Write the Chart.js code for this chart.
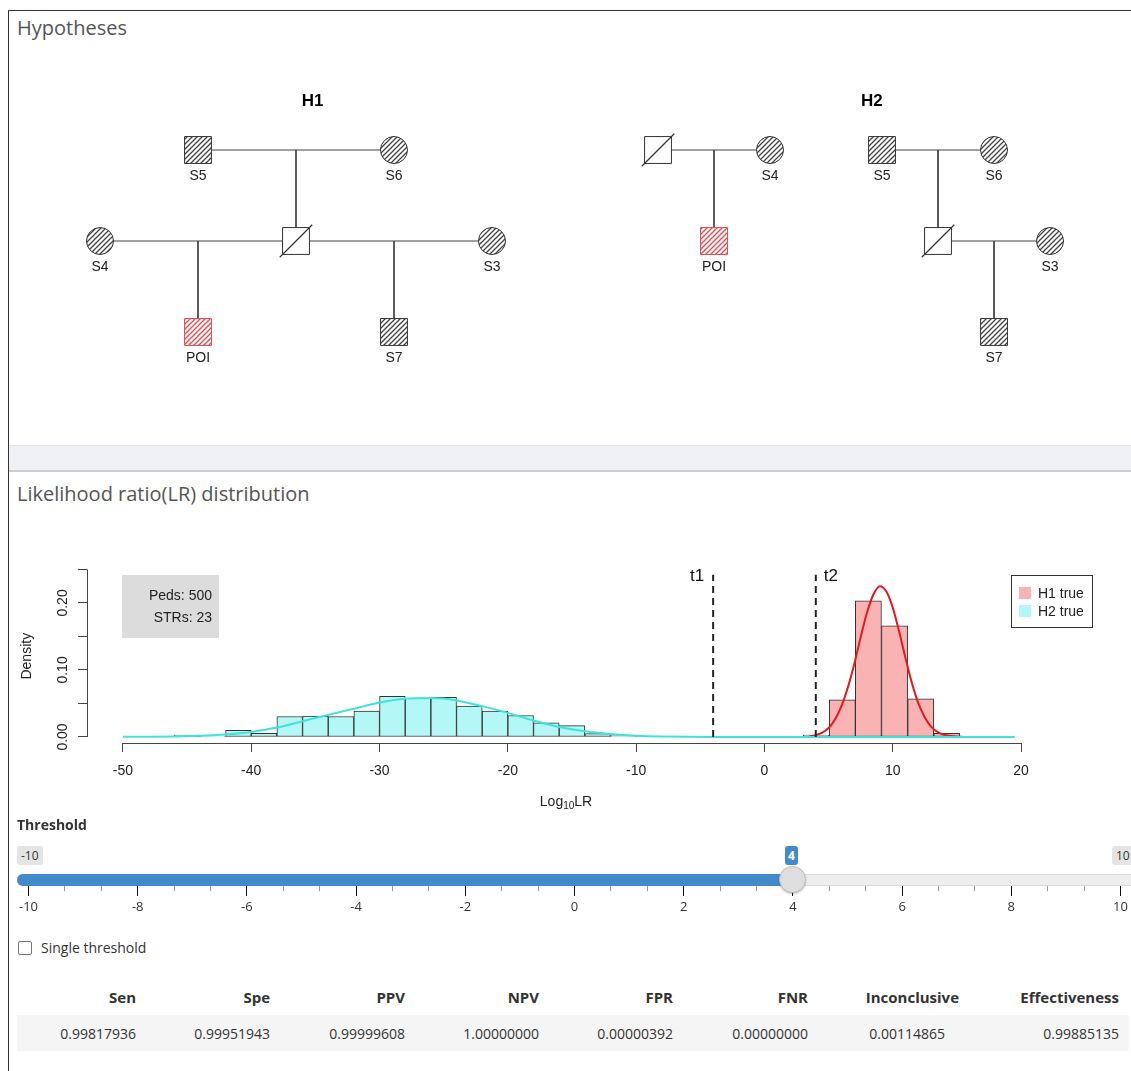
<!DOCTYPE html>
<html>
<head>
<meta charset="utf-8">
<script src="https://cdn.jsdelivr.net/npm/chart.js@4.4.1/dist/chart.umd.min.js"></script>
<style>
  body { margin: 0; background: #fff; font-family: "Open Sans", sans-serif; color: #333; overflow: hidden; }
  .frame { position: absolute; left: 8px; top: 10px; width: 1200px; height: 1100px; border-left: 1px solid #333; border-top: 1px solid #333; }
  .heading { position: absolute; font-size: 20px; color: #555; white-space: nowrap; }
  .band { position: absolute; left: 9px; top: 445px; width: 1122px; height: 24px; background: #eef0f3; border-top: 1px solid #dfe2e6; border-bottom: 2px solid #c9cdd2; }
  canvas { position: absolute; }
  #thLabel { position: absolute; left: 17px; top: 815px; font-weight: bold; font-size: 14px; color: #333; }
  .sbox { position: absolute; top: 846px; height: 19px; line-height: 19px; font-size: 12px; border-radius: 3px; text-align: center; padding: 0 4px; }
  .track { position: absolute; left: 17px; top: 874px; width: 1130px; height: 10px; background: #eee; border: 1px solid #ddd; border-radius: 5px; }
  .bar { position: absolute; left: 17px; top: 874px; height: 12px; background: #428bca; border-radius: 6px 0 0 6px; }
  .handle { position: absolute; width: 25px; height: 25px; border-radius: 50%; background: #dedede; border: 1px solid #bbb; box-shadow: 0 1px 2px rgba(0,0,0,0.25); }
  .tick { position: absolute; width: 1px; }
  .tlab { position: absolute; font-size: 13px; color: #333; transform: translateX(-50%); top: 897px; }
  .chk { position: absolute; left: 18px; top: 941px; width: 12px; height: 12px; border: 1px solid #767676; border-radius: 2px; background: #fff; }
  #single { position: absolute; left: 41px; top: 938px; font-size: 14px; color: #333; }
  table { position: absolute; left: 17px; top: 979px; border-collapse: collapse; table-layout: fixed; }
  th { font-weight: bold; font-size: 15px; text-align: right; padding: 0 10px 0 0; height: 36px; color: #333; }
  td { font-size: 14px; text-align: right; padding: 0 10px 0 0; height: 36px; background: #f5f5f5; color: #333; }
</style>
</head>
<body>
<div class="frame"></div>
<div class="heading" style="left:17px;top:14px">Hypotheses</div>
<canvas id="ped1" width="551" height="400" style="left:9px;top:40px"></canvas>
<canvas id="ped2" width="571" height="400" style="left:560px;top:40px"></canvas>
<div class="band"></div>
<div class="heading" style="left:17px;top:480px">Likelihood ratio(LR) distribution</div>
<canvas id="lrChart" width="1122" height="280" style="left:9px;top:540px"></canvas>
<div id="thLabel">Threshold</div>
<div id="slider"></div>
<div class="chk"></div>
<div id="single">Single threshold</div>
<table id="stats"></table>

<script>
// ---- pedigrees: [name, x position, generation, sex, status]
const h1Nodes = [
  ['S5', 1, 0, 'M', 'typed'], ['S6', 3, 0, 'F', 'typed'],
  ['', 2, 1, 'M', 'dead'], ['S4', 0, 1, 'F', 'typed'], ['S3', 4, 1, 'F', 'typed'],
  ['POI', 1, 2, 'M', 'poi'], ['S7', 3, 2, 'M', 'typed']
];
const h1Lines = [[1, 0, 3, 0], [2, 0, 2, 1], [0, 1, 4, 1], [1, 1, 1, 2], [3, 1, 3, 2]];

const h2Nodes = [
  ['', 0, 0, 'M', 'dead'], ['S4', 1, 0, 'F', 'typed'], ['POI', 0.5, 1, 'M', 'poi'],
  ['S5', 2, 0, 'M', 'typed'], ['S6', 3, 0, 'F', 'typed'],
  ['', 2.5, 1, 'M', 'dead'], ['S3', 3.5, 1, 'F', 'typed'], ['S7', 3, 2, 'M', 'typed']
];
const h2Lines = [[0, 0, 1, 0], [0.5, 0, 0.5, 1], [2, 0, 3, 0], [2.5, 0, 2.5, 1], [2.5, 1, 3.5, 1], [3, 1, 3, 2]];

// ---- LR histogram
const h2BinMid = [-45, -43, -41, -39, -37, -35, -33, -31, -29, -27, -25, -23, -21, -19, -17, -15, -13, -11, -9];
const h2Dens = [0.003, 0.001, 0.010, 0.0055, 0.0305, 0.031, 0.0305, 0.0385, 0.0605, 0.0575, 0.059, 0.046, 0.0385, 0.032, 0.021, 0.017, 0.005, 0.002, 0.0005];
const h2BinW = 2;
const h1BinMid = [4.03, 6.07, 8.10, 10.14, 12.18, 14.21];
const h1Dens = [0.003, 0.0555, 0.203, 0.166, 0.057, 0.0055];
const h1BinW = 2.035;

const h2CurveX = [-50, -48, -46, -44, -42, -40, -38, -36, -34, -32, -30, -28, -26, -24, -22, -20, -18, -16, -14, -12, -10, -8, -6, -4, -2, 0, 5, 10, 15, 19.5];
const h2CurveY = [0.0002, 0.0004, 0.0008, 0.0018, 0.0038, 0.0075, 0.014, 0.0235, 0.033, 0.042, 0.0515, 0.057, 0.058, 0.0545, 0.046, 0.036, 0.0245, 0.015, 0.0085, 0.0045, 0.002, 0.0008, 0.0003, 0.0001, 0, 0, 0, 0, 0, 0];
const h1CurveX = [3.5, 4, 4.5, 5, 5.5, 6, 6.5, 7, 7.5, 8, 8.5, 9, 9.5, 10, 10.5, 11, 11.5, 12, 12.5, 13, 13.5, 14, 14.5, 15, 15.5];
const h1CurveY = [0.0011, 0.0028, 0.0064, 0.0134, 0.026, 0.046, 0.074, 0.109, 0.149, 0.186, 0.213, 0.225, 0.217, 0.193, 0.157, 0.117, 0.080, 0.050, 0.029, 0.015, 0.0072, 0.0033, 0.0013, 0.0005, 0];

const thresholds = [-4, 4];
const thresholdNames = ['t1', 't2'];
const yLabelTicks = [0, 0.1, 0.2];
const infoLines = ['Peds: 500', 'STRs: 23'];
const legendNames = ['H1 true', 'H2 true'];

// ---- slider + table
const sliderMin = -10, sliderMax = 10, sliderValue = 4;
const sliderTicks = [-10, -8, -6, -4, -2, 0, 2, 4, 6, 8, 10];
const tableHeaders = ['Sen', 'Spe', 'PPV', 'NPV', 'FPR', 'FNR', 'Inconclusive', 'Effectiveness'];
const tableValues = ['0.99817936', '0.99951943', '0.99999608', '1.00000000', '0.00000392', '0.00000000', '0.00114865', '0.99885135'];

const RFONT = '"Liberation Sans", Arial, sans-serif';
const pink = '#f9b3b3', cyan = '#b3f7f7';

function hatch(color, bg) {
  const c = document.createElement('canvas');
  c.width = 5; c.height = 5;
  const g = c.getContext('2d');
  g.fillStyle = bg; g.fillRect(0, 0, 5, 5);
  g.strokeStyle = color; g.lineWidth = 1.3;
  g.beginPath();
  g.moveTo(0, 5); g.lineTo(5, 0);
  g.moveTo(-1, 1); g.lineTo(1, -1);
  g.moveTo(4, 6); g.lineTo(6, 4);
  g.stroke();
  return g.createPattern(c, 'repeat');
}
const grayHatch = hatch('#444', '#fff');
const redHatch = hatch('#e8474c', '#fff');

const pedLabels = {
  id: 'pedLabels',
  afterDatasetsDraw(chart, args, opts) {
    const { ctx, scales: { x, y } } = chart;
    ctx.save();
    ctx.textAlign = 'center';
    ctx.textBaseline = 'middle';
    ctx.fillStyle = '#222';
    ctx.font = '14px ' + RFONT;
    opts.nodes.forEach(n => {
      if (!n[0]) return;
      ctx.fillText(n[0], x.getPixelForValue(n[1]), y.getPixelForValue(n[2]) + 26);
    });
    ctx.font = 'bold 17px ' + RFONT;
    ctx.fillStyle = '#000';
    ctx.fillText(opts.title, x.getPixelForValue(opts.titleX), y.getPixelForValue(opts.titleY));
    ctx.restore();
  }
};

function pedigree(id, nodes, lines, title, titleX, xr) {
  const datasets = lines.map(l => ({
    order: 3,
    data: [{ x: l[0], y: l[1] }, { x: l[2], y: l[3] }],
    showLine: true, pointRadius: 0, borderColor: '#444', borderWidth: 1
  }));
  datasets.push({
    order: 2,
    data: nodes.map(n => ({ x: n[1], y: n[2] })),
    pointStyle: c => nodes[c.dataIndex][3] === 'M' ? 'rect' : 'circle',
    pointRadius: c => nodes[c.dataIndex][3] === 'M' ? 19 : 13.5,
    backgroundColor: c => {
      const s = nodes[c.dataIndex][4];
      return s === 'poi' ? redHatch : s === 'typed' ? grayHatch : '#fff';
    },
    borderColor: c => nodes[c.dataIndex][4] === 'poi' ? '#e8474c' : '#333',
    borderWidth: 1
  });
  const dead = nodes.filter(n => n[4] === 'dead');
  datasets.push({
    order: 1,
    data: dead.map(n => ({ x: n[1], y: n[2] })),
    pointStyle: 'line', rotation: -45, pointRadius: 23,
    borderColor: '#333', borderWidth: 1.2
  });
  new Chart(document.getElementById(id), {
    type: 'scatter',
    data: { datasets },
    options: {
      responsive: false, animation: false, events: [],
      layout: { padding: 0, autoPadding: false },
      scales: {
        x: { display: false, min: xr[0], max: xr[1] },
        y: { display: false, reverse: true, min: -1.209, max: 3.187 }
      },
      plugins: {
        legend: { display: false }, tooltip: { enabled: false },
        pedLabels: { nodes, title, titleX, titleY: -0.53 }
      }
    },
    plugins: [pedLabels]
  });
}

pedigree('ped1', h1Nodes, h1Lines, 'H1', 2.17, [-0.9286, 4.694]);
pedigree('ped2', h2Nodes, h2Lines, 'H2', 1.91, [-0.875, 4.223]);

// ---- LR chart
const xMin = -52.8, xMax = 22.8;
const plotW = 970;
const pxPerUnit = plotW / (xMax - xMin);

const rAxes = {
  id: 'rAxes',
  afterDraw(chart) {
    const { ctx, chartArea: a, scales: { x, y } } = chart;
    ctx.save();
    ctx.strokeStyle = '#444'; ctx.lineWidth = 1;
    ctx.beginPath();
    ctx.moveTo(x.getPixelForValue(-50), a.bottom + 0.5);
    ctx.lineTo(x.getPixelForValue(20), a.bottom + 0.5);
    ctx.moveTo(a.left + 0.5, y.getPixelForValue(0));
    ctx.lineTo(a.left + 0.5, y.getPixelForValue(0.25));
    ctx.stroke();

    ctx.fillStyle = '#222';
    ctx.font = '14px ' + RFONT;
    ctx.textAlign = 'center';
    ctx.textBaseline = 'middle';
    yLabelTicks.forEach(v => {
      ctx.save();
      ctx.translate(54, y.getPixelForValue(v));
      ctx.rotate(-Math.PI / 2);
      ctx.fillText(v.toFixed(2), 0, 0);
      ctx.restore();
    });
    ctx.save();
    ctx.translate(18, (y.getPixelForValue(0) + y.getPixelForValue(0.25)) / 2 + 3);
    ctx.rotate(-Math.PI / 2);
    ctx.fillText('Density', 0, 0);
    ctx.restore();

    // x title with subscript
    const cx = (a.left + a.right) / 2 - 6, ty = 262;
    ctx.textAlign = 'left';
    const w1 = ctx.measureText('Log').width;
    ctx.font = '10px ' + RFONT;
    const w2 = ctx.measureText('10').width;
    ctx.font = '14px ' + RFONT;
    const w3 = ctx.measureText('LR').width;
    let sx = cx - (w1 + w2 + w3) / 2;
    ctx.fillText('Log', sx, ty);
    ctx.font = '10px ' + RFONT;
    ctx.fillText('10', sx + w1, ty + 4);
    ctx.font = '14px ' + RFONT;
    ctx.fillText('LR', sx + w1 + w2, ty);

    // threshold labels
    ctx.font = '17px ' + RFONT;
    ctx.fillStyle = '#111';
    ctx.textAlign = 'right';
    ctx.fillText(thresholdNames[0], x.getPixelForValue(thresholds[0]) - 9, 36);
    ctx.textAlign = 'left';
    ctx.fillText(thresholdNames[1], x.getPixelForValue(thresholds[1]) + 8, 36);

    // info box
    ctx.fillStyle = '#dcdcdc';
    ctx.fillRect(113, 35, 97, 63);
    ctx.fillStyle = '#222';
    ctx.font = '14px ' + RFONT;
    ctx.textAlign = 'right';
    ctx.fillText(infoLines[0], 203, 56);
    ctx.fillText(infoLines[1], 203, 78);

    // legend
    ctx.strokeStyle = '#333';
    ctx.strokeRect(1002.5, 35.5, 81, 52);
    [pink, cyan].forEach((col, i) => {
      ctx.fillStyle = col;
      ctx.fillRect(1010, 47 + i * 18, 12, 12);
      ctx.fillStyle = '#222';
      ctx.textAlign = 'left';
      ctx.fillText(legendNames[i], 1029, 54 + i * 18);
    });
    ctx.restore();
  }
};

const tickStyle = { color: '#444', drawOnChartArea: false, drawTicks: true, tickLength: 9, offset: false };

new Chart(document.getElementById('lrChart'), {
  type: 'bar',
  data: {
    datasets: [
      {
        type: 'bar', order: 5,
        data: h2BinMid.map((m, i) => ({ x: m, y: h2Dens[i] })),
        backgroundColor: cyan, borderColor: '#333', borderWidth: 1, borderSkipped: false,
        barThickness: h2BinW * pxPerUnit, grouped: false
      },
      {
        type: 'bar', order: 4,
        data: h1BinMid.map((m, i) => ({ x: m, y: h1Dens[i] })),
        backgroundColor: pink, borderColor: '#333', borderWidth: 1, borderSkipped: false,
        barThickness: h1BinW * pxPerUnit, grouped: false
      },
      {
        type: 'line', order: 3,
        data: h1CurveX.map((v, i) => ({ x: v, y: h1CurveY[i] })),
        borderColor: '#e41a1c', borderWidth: 2, pointRadius: 0, cubicInterpolationMode: 'monotone'
      },
      {
        type: 'line', order: 2,
        data: h2CurveX.map((v, i) => ({ x: v, y: h2CurveY[i] })),
        borderColor: '#3fe3dc', borderWidth: 2, pointRadius: 0, cubicInterpolationMode: 'monotone'
      },
      ...thresholds.map(t => ({
        type: 'line', order: 1,
        data: [{ x: t, y: 0 }, { x: t, y: 0.242 }],
        borderColor: '#222', borderWidth: 2, borderDash: [7, 5], pointRadius: 0
      }))
    ]
  },
  options: {
    responsive: false, animation: false, events: [],
    layout: { padding: { top: 21.4, right: 74, left: 0, bottom: 0 }, autoPadding: false },
    scales: {
      x: {
        type: 'linear', min: xMin, max: xMax, offset: false,
        ticks: { stepSize: 10, includeBounds: false, color: '#222', font: { family: RFONT, size: 14 }, padding: 11, maxRotation: 0 },
        grid: tickStyle, border: { display: false },
        afterFit: s => { s.height = 77; }
      },
      y: {
        min: -0.009, max: 0.262,
        ticks: { stepSize: 0.05, includeBounds: false, callback: () => '' },
        grid: tickStyle, border: { display: false },
        afterFit: s => { s.width = 78; }
      }
    },
    plugins: { legend: { display: false }, tooltip: { enabled: false } }
  },
  plugins: [rAxes]
});

// ---- slider
const slider = document.getElementById('slider');
const sL = 28, sR = 1120;
const sPos = v => sL + (v - sliderMin) / (sliderMax - sliderMin) * (sR - sL);
let html = '';
html += `<div class="sbox" style="left:17px;background:#e4e4e4;color:#333">${sliderMin}</div>`;
html += `<div class="sbox" style="left:1112px;background:#e4e4e4;color:#333">${sliderMax}</div>`;
html += `<div class="sbox" style="left:${sPos(sliderValue) - 7.5}px;background:#428bca;color:#fff;font-weight:bold;padding:0 3px">${sliderValue}</div>`;
html += `<div class="track"></div>`;
html += `<div class="bar" style="width:${sPos(sliderValue) - 17}px"></div>`;
sliderTicks.forEach((t, i) => {
  const p = sPos(t);
  html += `<div class="tick" style="left:${p}px;top:886px;height:10px;background:#111"></div>`;
  html += `<div class="tlab" style="left:${p + 0.5}px">${t}</div>`;
  if (i < sliderTicks.length - 1) {
    const step = (sPos(sliderTicks[i + 1]) - p) / 3;
    for (let k = 1; k < 3; k++) {
      html += `<div class="tick" style="left:${p + k * step}px;top:886px;height:5px;background:#999"></div>`;
    }
  }
});
html += `<div class="handle" style="left:${sPos(sliderValue) - 13}px;top:866px"></div>`;
slider.innerHTML = html;

// ---- table
const colW = [129, 134, 135, 134, 134, 135, 151, 160];
const tbl = document.getElementById('stats');
tbl.innerHTML =
  '<colgroup>' + colW.map(w => `<col style="width:${w}px">`).join('') + '</colgroup>' +
  '<tr>' + tableHeaders.map(h => `<th>${h}</th>`).join('') + '</tr>' +
  '<tr>' + tableValues.map((v, i) => `<td${i === 6 ? ' style="padding-right:24px"' : ''}>${v}</td>`).join('') + '</tr>';
tbl.style.width = colW.reduce((a, b) => a + b, 0) + 'px';
</script>
</body>
</html>
